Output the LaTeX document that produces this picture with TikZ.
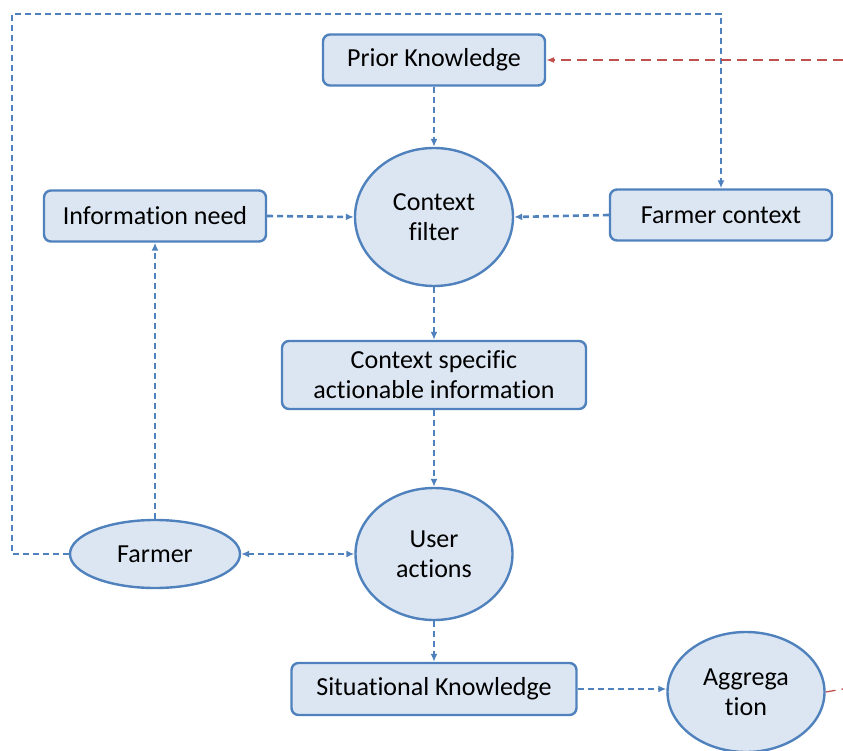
\documentclass[tikz,border=0pt]{standalone}
\usepackage{fontspec}
\setmainfont{Carlito}[Ligatures=NoCommon]
\usetikzlibrary{arrows.meta,shapes.geometric}
\definecolor{boxblue}{HTML}{4F81BD}
\definecolor{boxfill}{HTML}{DCE6F2}
\definecolor{linkred}{HTML}{C0504D}
\tikzset{
	box/.style={draw=boxblue, fill=boxfill, line width=2.4pt, rounded corners=7pt, align=center, inner sep=0pt},
	oval/.style={ellipse, draw=boxblue, fill=boxfill, line width=2.4pt, align=center, inner sep=0pt},
	flow/.style={draw=boxblue, line width=2.6pt, dash pattern=on 6pt off 4pt, -{Latex[length=8pt,width=7pt]}},
	redflow/.style={draw=linkred, line width=1.3pt, dash pattern=on 10pt off 6pt, -{Latex[length=8pt,width=6pt]}}
}

\begin{document}
\begin{tikzpicture}[x=1pt,y=-1pt,font=\fontsize{26}{30}\selectfont]
			%%%%% START %%%%%
			\useasboundingbox (0,0) rectangle (843,751);
			
			\node[box, minimum width=222, minimum height=51] (pk) at (434, 60) {Prior Knowledge};
			\node[oval, minimum width=158, minimum height=138] (cf) at (434, 217) {Context\\filter};
			\node[box, minimum width=222, minimum height=51] (need) at (155, 216) {Information need};
			\node[box, minimum width=222, minimum height=51] (fctx) at (721, 215) {Farmer context};
			\node[box, minimum width=304, minimum height=68] (csai) at (434, 375) {Context specific\\actionable information};
			\node[oval, minimum width=157, minimum height=132] (ua) at (434, 554) {User\\actions};
			\node[oval, minimum width=170, minimum height=68] (farmer) at (155, 554) {Farmer};
			\node[box, minimum width=285, minimum height=52] (sk) at (434, 689) {Situational Knowledge};
			\node[oval, minimum width=157, minimum height=120] (agg) at (746, 692) {Aggrega\\tion};
			
			\coordinate (loop) at (12, 14);
			\coordinate (redin) at (843, 60);
			\coordinate (redout) at (843, 689);
			
			\draw[flow] (pk) -- (cf);
			\draw[flow] (need.east) -- (cf.west);
			\draw[flow] (fctx.west) -- (cf.east);
			\draw[flow] (cf) -- (csai);
			\draw[flow] (csai) -- (ua);
			\draw[flow, {Latex[length=8pt,width=7pt]}-{Latex[length=8pt,width=7pt]}] (farmer) -- (ua);
			\draw[flow] (farmer) -- (need);
			\draw[flow] (farmer.west) -| (loop) -| (fctx.north);
			\draw[flow] (ua) -- (sk);
			\draw[flow] (sk.east) -- (agg.west |- sk.east);
			
			\draw[redflow] (redin) -- (pk.east);
			\draw[redflow, -] (agg.east) -- (redout);
			%%%%% END %%%%%
		\end{tikzpicture}
\end{document}
